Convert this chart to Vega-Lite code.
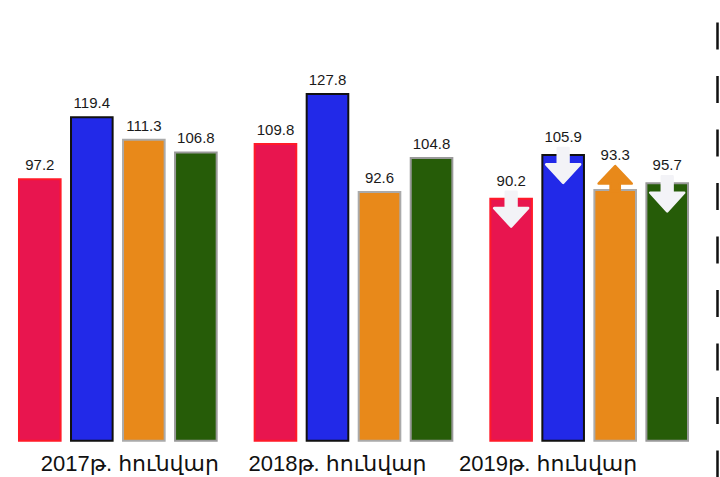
{
  "$schema": "https://vega.github.io/schema/vega-lite/v6.json",
  "width": 707,
  "height": 477,
  "autosize": {"type": "none"},
  "padding": {"left": 0, "top": 0, "right": 13, "bottom": 0},
  "background": "white",
  "config": {"view": {"stroke": null}},
  "data": {
    "values": [
      {"year": "2017", "series": "Ա", "value": 97.2},
      {"year": "2017", "series": "Բ", "value": 119.4},
      {"year": "2017", "series": "Գ", "value": 111.3},
      {"year": "2017", "series": "Դ", "value": 106.8},
      {"year": "2018", "series": "Ա", "value": 109.8},
      {"year": "2018", "series": "Բ", "value": 127.8},
      {"year": "2018", "series": "Գ", "value": 92.6},
      {"year": "2018", "series": "Դ", "value": 104.8},
      {"year": "2019", "series": "Ա", "value": 90.2, "change": "down"},
      {"year": "2019", "series": "Բ", "value": 105.9, "change": "down"},
      {"year": "2019", "series": "Գ", "value": 93.3, "change": "up"},
      {"year": "2019", "series": "Դ", "value": 95.7, "change": "down"}
    ]
  },
  "encoding": {
    "x": {
      "field": "year",
      "type": "nominal",
      "scale": {"paddingInner": 0, "paddingOuter": 0},
      "axis": {
        "title": null,
        "orient": "bottom",
        "offset": -36,
        "domain": false,
        "ticks": false,
        "labelAngle": 0,
        "labelFont": "Liberation Sans, DejaVu Sans",
        "labelFontSize": 22,
        "labelColor": "#111111",
        "labelBaseline": "middle",
        "labelPadding": 22,
        "labelExpr": "datum.value + 'թ. հունվար'",
        "labelOffset": {"expr": "datum.value == '2017' ? 12 : datum.value == '2018' ? -16 : -41"}
      }
    },
    "xOffset": {
      "field": "series",
      "type": "nominal",
      "sort": ["Ա", "Բ", "Գ", "Դ"],
      "scale": {"paddingInner": 0.2, "paddingOuter": 0.365}
    },
    "y": {
      "field": "value",
      "type": "quantitative",
      "scale": {"domain": [-9.7, 161.5], "nice": false, "zero": false},
      "axis": {
        "title": null,
        "orient": "right",
        "offset": 10,
        "labels": false,
        "ticks": false,
        "grid": false,
        "domain": true,
        "domainColor": "#111111",
        "domainWidth": 2.5,
        "domainDash": [27, 26.5]
      }
    }
  },
  "layer": [
    {
      "mark": {"type": "bar", "strokeWidth": 2},
      "encoding": {
        "y2": {"datum": 3.3},
        "color": {
          "field": "series",
          "type": "nominal",
          "scale": {"domain": ["Ա", "Բ", "Գ", "Դ"], "range": ["#e8154f", "#2229e8", "#e8891a", "#265c08"]},
          "legend": null
        },
        "stroke": {
          "field": "series",
          "type": "nominal",
          "scale": {"domain": ["Ա", "Բ", "Գ", "Դ"], "range": ["#ff1a2a", "#111111", "#aaaaaa", "#999999"]},
          "legend": null
        }
      }
    },
    {
      "transform": [{"filter": "isValid(datum.change)"}],
      "mark": {"type": "point", "filled": true, "opacity": 1, "strokeWidth": 2.5, "strokeJoin": "round", "size": 1600},
      "encoding": {
        "fill": {"condition": {"test": "datum.change == 'up'", "value": "#e8891a"}, "value": "#f3f3f7"},
        "stroke": {"condition": {"test": "datum.change == 'up'", "value": "#e8891a"}, "value": "#f3f3f7"},
        "shape": {
          "field": "change",
          "type": "nominal",
          "scale": {
            "domain": ["down", "up"],
            "range": [
              "M-0.27,-0.35 L0.27,-0.35 L0.27,0.47 L0.85,0.47 L0,1.4 L-0.85,0.47 L-0.27,0.47 Z",
              "M0,-1.2 L0.83,-0.32 L0.23,-0.32 L0.23,0.05 L-0.23,0.05 L-0.23,-0.32 L-0.83,-0.32 Z"
            ]
          },
          "legend": null
        }
      }
    },
    {
      "transform": [{"filter": "datum.year != '2019'"}],
      "mark": {"type": "text", "baseline": "middle", "dy": -14, "font": "Liberation Sans", "fontSize": 15, "color": "#1a1a1a"},
      "encoding": {"text": {"field": "value", "type": "quantitative", "format": ".1f"}}
    },
    {
      "transform": [{"filter": "datum.year == '2019' && datum.change == 'down'"}],
      "mark": {"type": "text", "baseline": "middle", "dy": -18, "font": "Liberation Sans", "fontSize": 15, "color": "#1a1a1a"},
      "encoding": {"text": {"field": "value", "type": "quantitative", "format": ".1f"}}
    },
    {
      "transform": [{"filter": "datum.year == '2019' && datum.change == 'up'"}],
      "mark": {"type": "text", "baseline": "middle", "dy": -35, "font": "Liberation Sans", "fontSize": 15, "color": "#1a1a1a"},
      "encoding": {"text": {"field": "value", "type": "quantitative", "format": ".1f"}}
    }
  ]
}
